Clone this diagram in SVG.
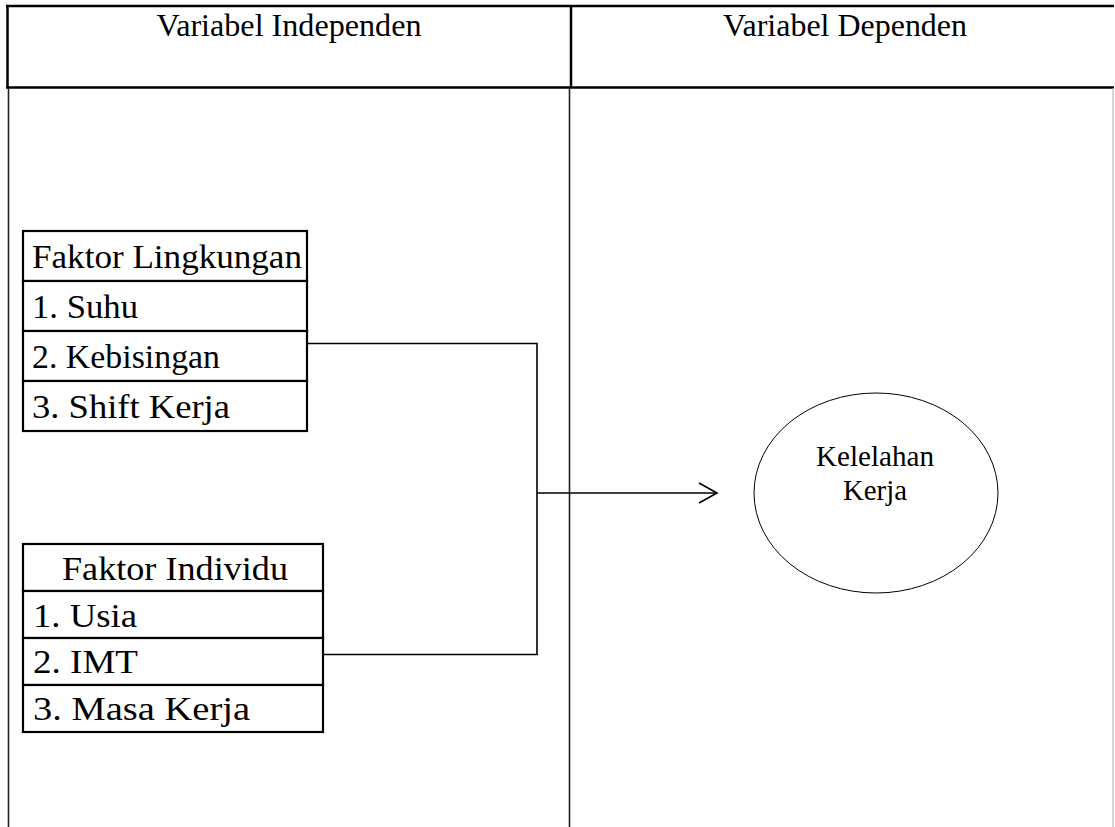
<svg xmlns="http://www.w3.org/2000/svg" width="1115" height="827" viewBox="0 0 1115 827">
<style>
text{font-family:"Liberation Serif","Times New Roman",serif;fill:#000}
.hd{font-size:31.5px}
.bx{font-size:34px}
.el{font-size:29px}
.frame{stroke:#000;stroke-width:2.5;fill:none}
.thin{stroke:#222;stroke-width:1.6;fill:none}
.cell{fill:#fff;stroke:#000;stroke-width:2.2}
.conn{stroke:#000;stroke-width:1.6;fill:none}
</style>
<rect width="1115" height="827" fill="#fff"/>
<g id="frame">
<line class="frame" x1="6" y1="6" x2="1114" y2="6"/>
<line class="frame" x1="6" y1="87.5" x2="1114" y2="87.5"/>
<line class="frame" x1="7.5" y1="5" x2="7.5" y2="88"/>
<line class="frame" x1="571" y1="5" x2="571" y2="88"/>
<line class="thin" x1="8.5" y1="88" x2="8.5" y2="827"/>
<line class="thin" x1="569.5" y1="88" x2="569.5" y2="827"/>
<line x1="1113" y1="88" x2="1113" y2="827" stroke="#bbb" stroke-width="1.2"/>
<text class="hd" x="289" y="36" text-anchor="middle" textLength="265" lengthAdjust="spacingAndGlyphs">Variabel Independen</text>
<text class="hd" x="845" y="36" text-anchor="middle" textLength="244" lengthAdjust="spacingAndGlyphs">Variabel Dependen</text>
</g>
<g id="faktor-lingkungan">
<rect class="cell" x="23" y="231" width="284" height="50"/>
<rect class="cell" x="23" y="281" width="284" height="50"/>
<rect class="cell" x="23" y="331" width="284" height="50"/>
<rect class="cell" x="23" y="381" width="284" height="50"/>
<text class="bx" x="32" y="268" textLength="270" lengthAdjust="spacingAndGlyphs">Faktor Lingkungan</text>
<text class="bx" x="32" y="318" textLength="106" lengthAdjust="spacingAndGlyphs">1. Suhu</text>
<text class="bx" x="32" y="368" textLength="188" lengthAdjust="spacingAndGlyphs">2. Kebisingan</text>
<text class="bx" x="32" y="418" textLength="198" lengthAdjust="spacingAndGlyphs">3. Shift Kerja</text>
</g>
<g id="faktor-individu">
<rect class="cell" x="23" y="544" width="300" height="47"/>
<rect class="cell" x="23" y="591" width="300" height="47"/>
<rect class="cell" x="23" y="638" width="300" height="47"/>
<rect class="cell" x="23" y="685" width="300" height="47"/>
<text class="bx" x="62" y="580" textLength="226" lengthAdjust="spacingAndGlyphs">Faktor Individu</text>
<text class="bx" x="33" y="627" textLength="104" lengthAdjust="spacingAndGlyphs">1. Usia</text>
<text class="bx" x="33" y="673" textLength="105" lengthAdjust="spacingAndGlyphs">2. IMT</text>
<text class="bx" x="33" y="720" textLength="217" lengthAdjust="spacingAndGlyphs">3. Masa Kerja</text>
</g>
<g id="kelelahan-kerja">
<ellipse cx="876" cy="493" rx="122" ry="100" fill="#fff" stroke="#000" stroke-width="1"/>
<text class="el" x="875" y="466" text-anchor="middle" textLength="118" lengthAdjust="spacingAndGlyphs">Kelelahan</text>
<text class="el" x="875" y="500" text-anchor="middle" textLength="64" lengthAdjust="spacingAndGlyphs">Kerja</text>
</g>
<g id="connectors">
<polyline class="conn" points="308,343.5 537,343.5 537,654.5 324,654.5"/>
<line class="conn" x1="537" y1="493" x2="716" y2="493"/>
<polyline class="conn" points="699,483 717,493 699,503"/>
</g>
</svg>
